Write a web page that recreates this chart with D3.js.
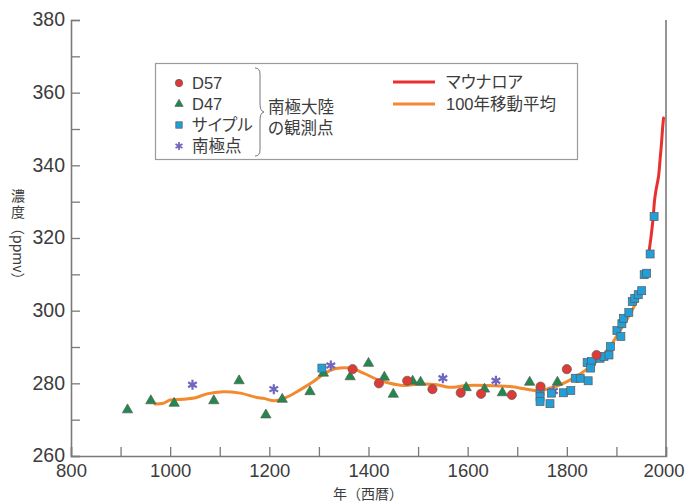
<!DOCTYPE html>
<html><head><meta charset="utf-8">
<script src="https://cdn.jsdelivr.net/npm/d3@7"></script>
<style>
html,body{margin:0;padding:0;background:#fff;}
svg{display:block;font-family:"Liberation Sans","Noto Sans CJK JP",sans-serif;}
</style></head>
<body><svg id="c" width="685" height="502"></svg>
<script>
// ---- data ----
const yTicks = [260, 280, 300, 320, 340, 360, 380];
const xTicks = [800, 1000, 1200, 1400, 1600, 1800, 2000];
const d57 = [[1368,283.9],[1421,280.0],[1478,280.7],[1529,278.4],[1586,277.4],[1627,277.1],[1689,276.8],[1747,279.1],[1800,283.9],[1860,287.8]];
const d47 = [[914,272.7],[961,275.2],[1008,274.5],[1088,275.2],[1139,280.7],[1193,271.3],[1226,275.6],[1282,277.7],[1309,282.8],[1363,281.8],[1400,285.5],[1432,281.7],[1450,277.0],[1489,280.6],[1505,280.3],[1597,278.8],[1634,278.4],[1670,277.4],[1725,280.3],[1781,280.3]];
const siple = [[1306,284.2],[1746,277.7],[1746,276.3],[1746,275.0],[1766,274.4],[1769,277.3],[1793,277.4],[1808,278.0],[1817,281.4],[1827,281.4],[1843,280.7],[1841,285.7],[1850,286.0],[1848,284.2],[1867,286.9],[1875,287.4],[1885,287.8],[1888,290.1],[1901,294.5],[1909,292.9],[1911,296.4],[1914,297.9],[1925,299.5],[1932,302.5],[1937,303.4],[1944,304.4],[1951,305.5],[1956,309.9],[1961,310.3],[1968,315.6],[1976,325.9]];
const southPole = [[1045,279.6],[1209,278.4],[1324,284.9],[1550,281.4],[1657,280.7],[1773,277.9]];
const maunaLoa = [[1966,316.5],[1970,320.5],[1974,325.5],[1977,330.5],[1980,333.3],[1985,337.0],[1988,341.5],[1991,346.2],[1993,350.0],[1995,353.0]];
const movingAvg = [[969,274.3],[986,274.5],[1000,275.4],[1026,275.6],[1053,276.1],[1074,277.1],[1107,277.7],[1141,277.3],[1175,276.1],[1188,275.9],[1211,275.2],[1235,276.2],[1262,278.2],[1289,280.5],[1312,282.8],[1332,284.0],[1363,284.2],[1390,282.8],[1417,281.1],[1443,280.0],[1470,279.4],[1504,279.8],[1538,279.6],[1564,278.9],[1598,279.4],[1638,279.4],[1685,279.1],[1719,278.4],[1746,277.9],[1766,278.7],[1786,279.6],[1806,280.9],[1827,282.6],[1847,284.6],[1867,286.9],[1887,290.1],[1904,293.8],[1921,297.5],[1934,300.7],[1947,304.4]];

const C = {red:"#e03a36", green:"#1f8a4c", blue:"#229fd9", purple:"#6f66bf", orange:"#f28a30", line:"#e8312f", axis:"#7a7a7a", text:"#3c3c3c"};
const NARROW = "'Liberation Sans Narrow','Arial Narrow','Liberation Sans',sans-serif";
const CJK = "'Noto Sans CJK JP','Liberation Sans',sans-serif";
const MIX = "'Liberation Sans','Noto Sans CJK JP',sans-serif";

const svg = d3.select("#c");
const x = d3.scaleLinear().domain([800,2000]).range([71,666]);
const y = d3.scaleLinear().domain([260,380]).range([456,20]);

// axes
const yAxis = d3.axisLeft(y).tickValues(d3.range(260,381,10)).tickSize(-9).tickPadding(6)
  .tickFormat(d => yTicks.includes(d) ? d : "");
const xAxis = d3.axisBottom(x).tickValues(d3.range(800,2001,100)).tickSize(-9).tickPadding(8)
  .tickFormat(d => xTicks.includes(d) ? d : "");
const gy = svg.append("g").attr("transform","translate(71,0)").call(yAxis);
const gx = svg.append("g").attr("transform","translate(0,456)").call(xAxis);
[gx,gy].forEach(g=>{
  g.select(".domain").attr("stroke",C.axis).attr("stroke-width",1.6);
  g.selectAll(".tick line").attr("stroke",C.axis).attr("stroke-width",1.3);
  g.selectAll(".tick text").attr("fill",C.text).attr("font-family",NARROW);
});
gy.selectAll(".tick text").attr("font-size",19.5).attr("dy","0.3em");
gx.selectAll(".tick text").attr("font-size",18.5);
gx.selectAll(".tick").filter(d => d === 2000).select("text").attr("x",-2.5);
// right border
svg.append("line").attr("x1",x(2000)).attr("x2",x(2000)).attr("y1",y(380)).attr("y2",y(260))
  .attr("stroke",C.axis).attr("stroke-width",1.6);

// axis titles
svg.append("text").attr("x",368).attr("y",499).attr("text-anchor","middle")
  .attr("font-family",CJK).attr("font-size",14).attr("fill",C.text).text("年（西暦）");
const yt = svg.append("g").attr("fill",C.text).attr("font-family",CJK).attr("font-size",14);
yt.append("text").attr("x",18).attr("y",189)
  .style("writing-mode","vertical-rl").style("text-orientation","upright")
  .attr("letter-spacing","2").text("濃度");
yt.append("text").attr("transform","translate(13,221) rotate(90)").text("（ppmv）");

// lines
const line = d3.line().x(d=>x(d[0])).y(d=>y(d[1])).curve(d3.curveCatmullRom);
svg.append("path").datum(movingAvg).attr("d",line).attr("fill","none")
  .attr("stroke",C.orange).attr("stroke-width",3).attr("stroke-linecap","round");
svg.append("path").datum(maunaLoa).attr("d",line).attr("fill","none")
  .attr("stroke",C.line).attr("stroke-width",3).attr("stroke-linecap","round");

// markers
const outline = "#5a5a5a";
function tri(g,s=1){ return g.append("path").attr("d",d3.symbol(d3.symbolTriangle,46*s*s)()).attr("fill",C.green).attr("stroke",outline).attr("stroke-width",0.7); }
function sq(g,s=1){ const h=4*s; return g.append("rect").attr("x",-h).attr("y",-h).attr("width",2*h).attr("height",2*h).attr("fill",C.blue).attr("stroke",outline).attr("stroke-width",0.7); }
function circ(g,s=1){ return g.append("circle").attr("r",4.6*s).attr("fill",C.red).attr("stroke",outline).attr("stroke-width",0.7); }
function star(g,s=1){
  const r=5*s; let p="";
  for(let a=0;a<3;a++){const t=Math.PI/2+a*Math.PI/3; p+=`M${r*Math.cos(t)},${r*Math.sin(t)}L${-r*Math.cos(t)},${-r*Math.sin(t)}`;}
  return g.append("path").attr("d",p).attr("stroke",C.purple).attr("stroke-width",2.2*s).attr("fill","none");
}
function plot(data, fn){
  svg.append("g").selectAll("g").data(data).join("g")
    .attr("transform",d=>`translate(${x(d[0])},${y(d[1])})`).each(function(){fn(d3.select(this));});
}
plot(d47, tri);
plot(southPole, star);
plot(siple, sq);
plot(d57, circ);

// legend
const lg = svg.append("g").attr("font-family",MIX).attr("fill",C.text).style("font-feature-settings","'palt'");
lg.append("rect").attr("x",155.5).attr("y",63.5).attr("width",422).attr("height",96)
  .attr("fill","#fff").attr("stroke","#9a9a9a").attr("stroke-width",1.2);
const items = [["D57",circ],["D47",tri],["サイプル",sq],["南極点",star]];
items.forEach((it,i)=>{
  const cy = 83 + i*21;
  const g = lg.append("g").attr("transform",`translate(179,${cy})`);
  it[1](g,0.8);
  lg.append("text").attr("x",192).attr("y",cy+6).attr("font-size",16.5).text(it[0]);
});
lg.append("path").attr("d","M255,68 Q260,68 260,74 L260,104 Q260,111 264,112 Q260,113 260,120 L260,150 Q260,156 255,156")
  .attr("fill","none").attr("stroke","#777").attr("stroke-width",1);
lg.append("text").attr("x",268).attr("y",113).attr("font-size",16.5).text("南極大陸");
lg.append("text").attr("x",268).attr("y",134).attr("font-size",16.5).text("の観測点");
[[C.line,"マウナロア",82],[C.orange,"100年移動平均",104]].forEach(d=>{
  lg.append("line").attr("x1",393).attr("x2",435).attr("y1",d[2]).attr("y2",d[2]).attr("stroke",d[0]).attr("stroke-width",3);
  lg.append("text").attr("x",446).attr("y",d[2]+6).attr("font-size",16.5).text(d[1]);
});
</script></body></html>
